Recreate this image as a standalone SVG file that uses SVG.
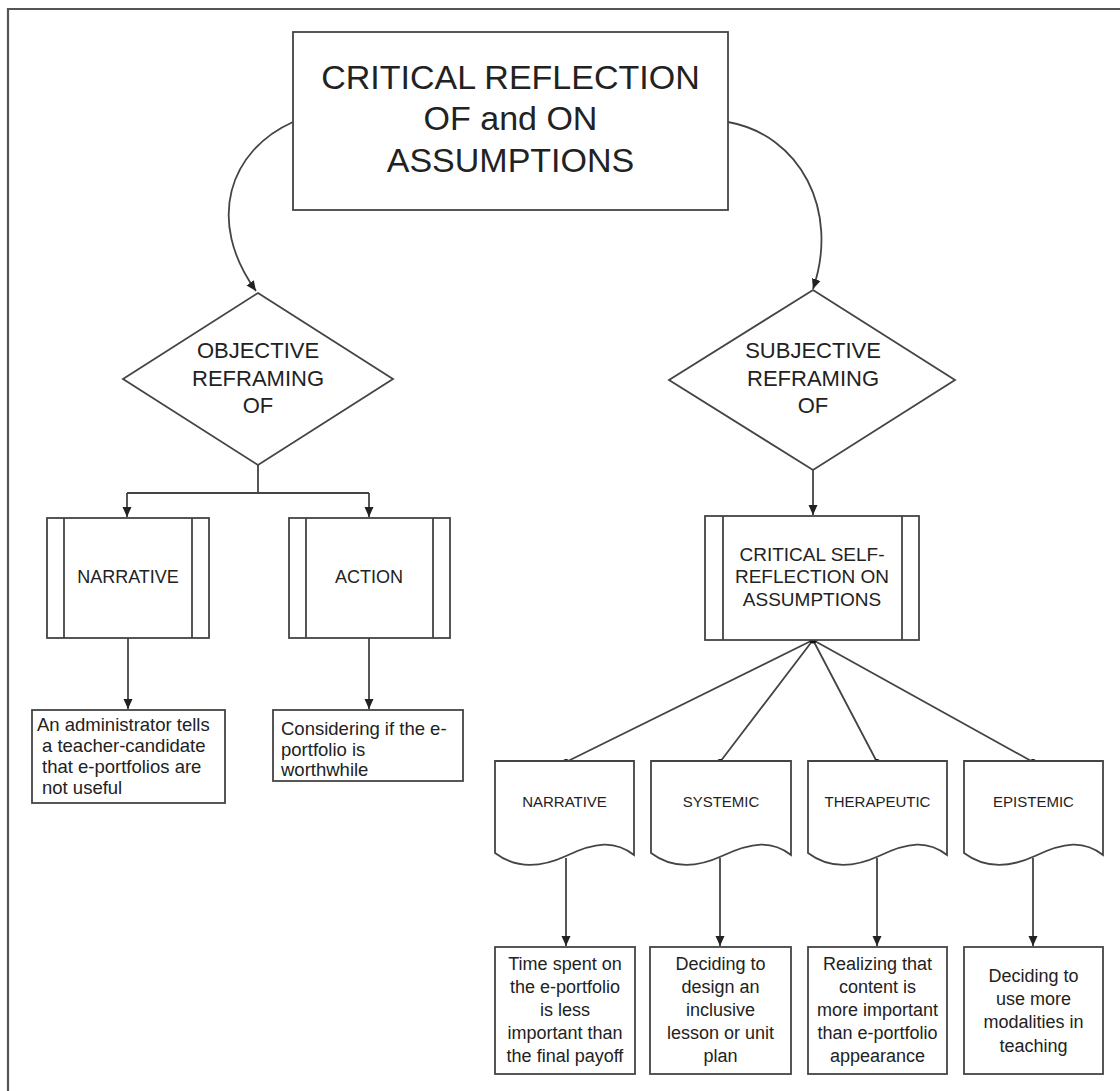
<svg xmlns="http://www.w3.org/2000/svg" width="1120" height="1091" viewBox="0 0 1120 1091">
<style>
text{font-family:"Liberation Sans",Arial,sans-serif;fill:#222}
.s{fill:#fff;stroke:#444;stroke-width:1.8}
.c{fill:none;stroke:#444;stroke-width:1.8}
.t34{font-size:34px;text-anchor:middle}
.t22{font-size:22px;text-anchor:middle}
.t19{font-size:19px;text-anchor:middle}
.t18{font-size:18px;text-anchor:middle}
.t15{font-size:15px;text-anchor:middle}
.l18{font-size:18.5px}
</style>
<defs>
<marker id="a" markerUnits="userSpaceOnUse" markerWidth="10" markerHeight="10" refX="10" refY="5" orient="auto"><path d="M0,0.5 L10,5 L0,9.5 z" fill="#222"/></marker>
</defs>
<rect width="1120" height="1091" fill="#fff"/>
<path d="M8,1091 V9 H1120" fill="none" stroke="#555" stroke-width="2.2"/>

<g id="connectors">
<path class="c" d="M293,122 C230,150 205,220 256,291" marker-end="url(#a)"/>
<path class="c" d="M728,122 C800,135 840,210 813,289" marker-end="url(#a)"/>
<path class="c" d="M258,465 V493 M127,493 H369"/>
<path class="c" d="M127,493 V517" marker-end="url(#a)"/>
<path class="c" d="M369,493 V517" marker-end="url(#a)"/>
<path class="c" d="M128,638 V709" marker-end="url(#a)"/>
<path class="c" d="M369,638 V709" marker-end="url(#a)"/>
<path class="c" d="M813,470 V515" marker-end="url(#a)"/>
<path class="c" d="M813,640 L566,762 M813,640 L720,762 M813,640 L877,762 M813,640 L1033,762"/>
<circle cx="813" cy="640" r="3.5" fill="#111"/>
<circle cx="566" cy="762" r="3" fill="#111"/>
<circle cx="720" cy="762" r="3" fill="#111"/>
<circle cx="877" cy="762" r="3" fill="#111"/>
<circle cx="1033" cy="762" r="3" fill="#111"/>
<path class="c" d="M566,858 V946" marker-end="url(#a)"/>
<path class="c" d="M720,858 V946" marker-end="url(#a)"/>
<path class="c" d="M877,858 V946" marker-end="url(#a)"/>
<path class="c" d="M1033,858 V946" marker-end="url(#a)"/>
</g>

<g id="title">
<rect class="s" x="293" y="32" width="435" height="178"/>
<text class="t34" x="510.5" y="89">CRITICAL REFLECTION</text>
<text class="t34" x="510.5" y="130">OF and ON</text>
<text class="t34" x="510.5" y="172">ASSUMPTIONS</text>
</g>

<g id="objective">
<path class="s" d="M258,293 L393,379 L258,465 L123,379 Z"/>
<text class="t22" x="258" y="358">OBJECTIVE</text>
<text class="t22" x="258" y="386">REFRAMING</text>
<text class="t22" x="258" y="413">OF</text>
</g>

<g id="subjective">
<path class="s" d="M813,290 L955,380 L813,470 L669,380 Z"/>
<text class="t22" x="813" y="358">SUBJECTIVE</text>
<text class="t22" x="813" y="386">REFRAMING</text>
<text class="t22" x="813" y="413">OF</text>
</g>

<g id="narrative1">
<rect class="s" x="47" y="518" width="162" height="120"/>
<path class="c" d="M64,518 V638 M192,518 V638"/>
<text class="t18" x="128" y="583">NARRATIVE</text>
</g>

<g id="action">
<rect class="s" x="289" y="518" width="161" height="120"/>
<path class="c" d="M306,518 V638 M433,518 V638"/>
<text class="t18" x="369" y="583">ACTION</text>
</g>

<g id="admin">
<rect class="s" x="32" y="710" width="193" height="93"/>
<text class="l18" x="37" y="731">An administrator tells</text>
<text class="l18" x="42" y="752">a teacher-candidate</text>
<text class="l18" x="42" y="773">that e-portfolios are</text>
<text class="l18" x="42" y="794">not useful</text>
</g>

<g id="considering">
<rect class="s" x="273" y="710" width="190" height="71"/>
<text class="l18" x="281" y="735">Considering if the e-</text>
<text class="l18" x="281" y="756">portfolio is</text>
<text class="l18" x="281" y="776">worthwhile</text>
</g>

<g id="critself">
<rect class="s" x="705" y="516" width="214" height="124"/>
<path class="c" d="M723,516 V640 M902,516 V640"/>
<text class="t19" x="812" y="561">CRITICAL SELF-</text>
<text class="t19" x="812" y="583">REFLECTION ON</text>
<text class="t19" x="812" y="606">ASSUMPTIONS</text>
</g>

<g id="doc-narrative">
<path class="s" d="M495,761 H634 V855 C615,840 595,842 566,856 C540,868 515,868 495,853 Z"/>
<text class="t15" x="564.5" y="807">NARRATIVE</text>
</g>
<g id="doc-systemic">
<path class="s" d="M651,761 H791 V855 C772,840 752,842 722,856 C696,868 671,868 651,853 Z"/>
<text class="t15" x="721" y="807">SYSTEMIC</text>
</g>
<g id="doc-therapeutic">
<path class="s" d="M808,761 H947 V855 C928,840 908,842 879,856 C853,868 828,868 808,853 Z"/>
<text class="t15" x="877.5" y="807">THERAPEUTIC</text>
</g>
<g id="doc-epistemic">
<path class="s" d="M964,761 H1103 V855 C1084,840 1064,842 1035,856 C1009,868 984,868 964,853 Z"/>
<text class="t15" x="1033.5" y="807">EPISTEMIC</text>
</g>

<g id="box-time">
<rect class="s" x="495" y="947" width="140" height="127"/>
<text class="t18" x="565" y="970">Time spent on</text>
<text class="t18" x="565" y="993">the e-portfolio</text>
<text class="t18" x="565" y="1016">is less</text>
<text class="t18" x="565" y="1039">important than</text>
<text class="t18" x="565" y="1062">the final payoff</text>
</g>
<g id="box-design">
<rect class="s" x="650" y="947" width="141" height="127"/>
<text class="t18" x="720.5" y="970">Deciding to</text>
<text class="t18" x="720.5" y="993">design an</text>
<text class="t18" x="720.5" y="1016">inclusive</text>
<text class="t18" x="720.5" y="1039">lesson or unit</text>
<text class="t18" x="720.5" y="1062">plan</text>
</g>
<g id="box-realizing">
<rect class="s" x="808" y="947" width="139" height="127"/>
<text class="t18" x="877.5" y="970">Realizing that</text>
<text class="t18" x="877.5" y="993">content is</text>
<text class="t18" x="877.5" y="1016">more important</text>
<text class="t18" x="877.5" y="1039">than e-portfolio</text>
<text class="t18" x="877.5" y="1062">appearance</text>
</g>
<g id="box-modalities">
<rect class="s" x="964" y="947" width="139" height="127"/>
<text class="t18" x="1033.5" y="982">Deciding to</text>
<text class="t18" x="1033.5" y="1005">use more</text>
<text class="t18" x="1033.5" y="1028">modalities in</text>
<text class="t18" x="1033.5" y="1052">teaching</text>
</g>
</svg>
